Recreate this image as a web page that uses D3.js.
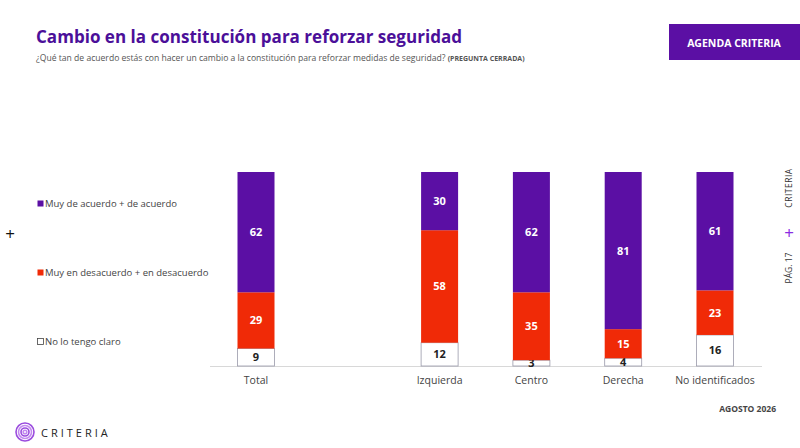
<!DOCTYPE html>
<html><head><meta charset="utf-8">
<script src="https://cdn.jsdelivr.net/npm/d3@7"></script>
<style>body{margin:0;background:#fff;font-family:"Open Sans",sans-serif}</style>
</head><body>
<script>
const categories = ["Total", "Izquierda", "Centro", "Derecha", "No identificados"];
const slots = [0, 2, 3, 4, 5];
const noClaro = [9, 12, 3, 4, 16];
const desacuerdo = [29, 58, 35, 15, 23];
const acuerdo = [62, 30, 62, 81, 61];
const seriesNames = ["Muy de acuerdo + de acuerdo", "Muy en desacuerdo + en desacuerdo", "No lo tengo claro"];

const W = 800, H = 448;
const purple = "#5b0fa4", red = "#f02a07";
const svg = d3.create("svg").attr("width", W).attr("height", H);
document.body.appendChild(svg.node());

svg.append("text").attr("x", 36).attr("y", 43).attr("font-size", 17.5).attr("font-weight", 700)
  .attr("fill", "#4b0f99").attr("textLength", 426).attr("lengthAdjust", "spacingAndGlyphs")
  .text("Cambio en la constitución para reforzar seguridad");
const sub = svg.append("text").attr("x", 36).attr("y", 61).attr("font-size", 8.6).attr("fill", "#555");
sub.append("tspan").text("¿Qué tan de acuerdo estás con hacer un cambio a la constitución para reforzar medidas de seguridad? ");
sub.append("tspan").attr("font-size", 7).attr("font-weight", 700).text("(PREGUNTA CERRADA)");

svg.append("rect").attr("x", 669).attr("y", 24).attr("width", 131).attr("height", 36).attr("fill", purple);
svg.append("text").attr("x", 734).attr("y", 47).attr("text-anchor", "middle").attr("font-size", 10.5)
  .attr("font-weight", 700).attr("fill", "#fff").text("AGENDA CRITERIA");

const x = d3.scaleLinear().domain([0, 5]).range([256, 715]);
const y = d3.scaleLinear().domain([0, 100]).range([366, 172]);
const bw = 37;

svg.append("line").attr("x1", 210).attr("x2", 762).attr("y1", 366.5).attr("y2", 366.5)
  .attr("stroke", "#d8d8d8");

const stacks = [
  {vals: noClaro, fill: "#fff", text: "#222"},
  {vals: desacuerdo, fill: red, text: "#fff"},
  {vals: acuerdo, fill: purple, text: "#fff"}
];
categories.forEach((c, i) => {
  let base = 0;
  const cx = x(slots[i]);
  stacks.forEach(s => {
    const v = s.vals[i];
    const y0 = y(base), y1 = y(base + v);
    svg.append("rect").attr("x", cx - bw / 2).attr("y", y1).attr("width", bw).attr("height", y0 - y1)
      .attr("fill", s.fill).attr("stroke", s.fill === "#fff" ? "#9a9aaa" : "none").attr("stroke-width", 0.8);
    svg.append("text").attr("x", cx).attr("y", (y0 + y1) / 2 + 4).attr("text-anchor", "middle")
      .attr("font-size", 11).attr("font-weight", 700).attr("fill", s.text).text(v);
    base += v;
  });
  svg.append("text").attr("x", cx).attr("y", 384).attr("text-anchor", "middle").attr("font-size", 10.5)
    .attr("fill", "#444").text(c);
});

const legY = [207, 276, 345];
const legFill = [purple, red, "#fff"];
seriesNames.forEach((n, i) => {
  svg.append("rect").attr("x", 37.5).attr("y", legY[i] - 6.5).attr("width", 6).attr("height", 6)
    .attr("fill", legFill[i]).attr("stroke", i === 2 ? "#444" : "none").attr("stroke-width", 0.8);
  svg.append("text").attr("x", 45).attr("y", legY[i]).attr("font-size", 9.5).attr("fill", "#444").text(n);
});
svg.append("text").attr("x", 10).attr("y", 240).attr("text-anchor", "middle").attr("font-size", 17).attr("fill", "#111").text("+");

svg.append("text").attr("transform", "translate(792,188) rotate(-90)").attr("text-anchor", "middle")
  .attr("font-size", 8.5).attr("fill", "#333").attr("letter-spacing", 0.5).text("CRITERIA");
svg.append("text").attr("x", 789).attr("y", 239).attr("text-anchor", "middle").attr("font-size", 17).attr("fill", "#8a2be2").text("+");
svg.append("text").attr("transform", "translate(792,268) rotate(-90)").attr("text-anchor", "middle")
  .attr("font-size", 8.5).attr("fill", "#333").text("PÁG. 17");

svg.append("text").attr("x", 776).attr("y", 412).attr("text-anchor", "end").attr("font-size", 8.5)
  .attr("font-weight", 700).attr("fill", "#444").text("AGOSTO 2026");

const logo = svg.append("g").attr("transform", "translate(25,432)");
[9, 6.5, 4, 1.8].forEach((r, i) => logo.append("circle").attr("r", r).attr("fill", "none")
  .attr("stroke", i % 2 ? "#c48af0" : "#9b4dde").attr("stroke-width", 1.6));
svg.append("text").attr("x", 41).attr("y", 437).attr("font-size", 11).attr("letter-spacing", 3)
  .attr("fill", "#222").text("CRITERIA");
</script>
</body></html>
